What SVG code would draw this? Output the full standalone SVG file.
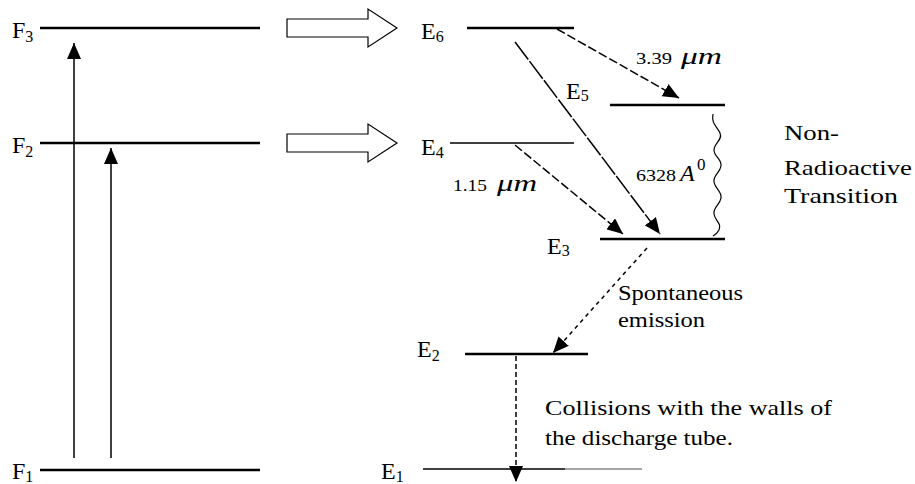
<svg xmlns="http://www.w3.org/2000/svg" width="915" height="484" viewBox="0 0 915 484">
<defs>
<style>
.lv{stroke:#000;stroke-width:2.5;fill:none}
.lt{stroke:#000;stroke-width:1.5;fill:none}
.cn{stroke:#000;stroke-width:1.5;fill:none;marker-end:url(#ah)}
.hol{stroke:#000;stroke-width:1.2;fill:#fff}
.lb{font-size:24px}
.sb{font-size:16px}
.tx{font-size:22px}
.sm{font-size:17px}
.it{font-style:italic;font-size:24px}
</style>
<marker id="ah" viewBox="0 0 16 14" refX="16" refY="7" markerWidth="16" markerHeight="14" markerUnits="userSpaceOnUse" orient="auto">
<path d="M0,0 L16,7 L0,14 z" fill="#000"/>
</marker>
</defs>
<g fill="#000" font-family="Liberation Serif, Times New Roman, serif">

<g id="F3"><line class="lv" x1="40" y1="28" x2="260" y2="28"/><text class="lb" x="12" y="38">F<tspan class="sb" dy="4">3</tspan></text></g>
<g id="F2"><line class="lv" x1="40" y1="143" x2="260" y2="143"/><text class="lb" x="12" y="153">F<tspan class="sb" dy="4">2</tspan></text></g>
<g id="F1"><line class="lv" x1="40" y1="470" x2="260" y2="470"/><text class="lb" x="12" y="479">F<tspan class="sb" dy="3">1</tspan></text></g>

<g id="pump1"><path class="hol" d="M287,19 L368,19 L368,9 L397,28 L368,47 L368,37 L287,37 Z"/></g>
<g id="pump2"><path class="hol" d="M287,134 L368,134 L368,124 L397,143 L368,162 L368,152 L287,152 Z"/></g>

<g id="E6"><line class="lv" x1="467" y1="28" x2="574" y2="28"/><text class="lb" x="421" y="39">E<tspan class="sb" dy="3">6</tspan></text></g>
<g id="E4"><line class="lt" x1="450" y1="143" x2="574" y2="143"/><text class="lb" x="421" y="155">E<tspan class="sb" dy="3">4</tspan></text></g>
<g id="E5"><line class="lv" x1="610" y1="105" x2="725" y2="105"/><text class="lb" x="566" y="99">E<tspan class="sb" dy="2">5</tspan></text></g>
<g id="E3"><line class="lv" x1="600" y1="239" x2="725" y2="239"/><text class="lb" x="547" y="254">E<tspan class="sb" dy="2">3</tspan></text></g>
<g id="E2"><line class="lv" x1="465" y1="354" x2="588" y2="354"/><text class="lb" x="417" y="357">E<tspan class="sb" dy="4">2</tspan></text></g>
<g id="E1"><line class="lt" x1="423" y1="469" x2="565" y2="469"/><line x1="565" y1="469" x2="642" y2="469" stroke="#888" stroke-width="1.5"/><text class="lb" x="381" y="479">E<tspan class="sb" dy="3">1</tspan></text></g>

<g id="connectors">
<line class="cn" x1="74" y1="458" x2="74" y2="43"/>
<line class="cn" x1="111" y1="458" x2="111" y2="148"/>
<line class="cn" x1="557" y1="29" x2="679" y2="98" stroke-dasharray="9 3"/>
<line class="cn" x1="515" y1="42" x2="660" y2="234" stroke-dasharray="22 2"/>
<line class="cn" x1="515" y1="145" x2="623" y2="234" stroke-dasharray="9 3"/>
<line class="cn" x1="647" y1="248" x2="553" y2="353" stroke-dasharray="4 4"/>
<line class="cn" x1="516" y1="356" x2="516" y2="482" stroke-width="1.2" stroke-dasharray="5 3"/>
<path d="M713,114 C711,124 717,126 720,133 C723,140 714,143 714,150 C714,157 722,159 721,166 C720,173 713,175 714,182 C715,189 722,191 721,198 C720,205 713,207 714,214 C715,221 722,223 719,230 C717,234 715,235 713,236" stroke="#000" stroke-width="1.2" fill="none"/>
</g>

<g id="labels">
<text class="sm" x="636" y="64" textLength="36" lengthAdjust="spacingAndGlyphs">3.39</text><text class="it" x="681" y="64" textLength="41" lengthAdjust="spacingAndGlyphs">μm</text>
<text class="sm" x="636" y="181" textLength="40" lengthAdjust="spacingAndGlyphs">6328</text><text class="it" x="680" y="181">A</text><text class="sm" x="697" y="170">0</text>
<text class="sm" x="453" y="191" textLength="34" lengthAdjust="spacingAndGlyphs">1.15</text><text class="it" x="497" y="191" textLength="40" lengthAdjust="spacingAndGlyphs">μm</text>
<text class="tx" x="784" y="140" textLength="55" lengthAdjust="spacingAndGlyphs">Non-</text>
<text class="tx" x="784" y="175" textLength="128" lengthAdjust="spacingAndGlyphs">Radioactive</text>
<text class="tx" x="784" y="203" textLength="114" lengthAdjust="spacingAndGlyphs">Transition</text>
<text class="tx" x="618" y="300" textLength="125" lengthAdjust="spacingAndGlyphs">Spontaneous</text>
<text class="tx" x="618" y="327" textLength="87" lengthAdjust="spacingAndGlyphs">emission</text>
<text class="tx" x="545" y="415" textLength="287" lengthAdjust="spacingAndGlyphs">Collisions with the walls of</text>
<text class="tx" x="545" y="445" textLength="188" lengthAdjust="spacingAndGlyphs">the discharge tube.</text>
</g>
</g>
</svg>
